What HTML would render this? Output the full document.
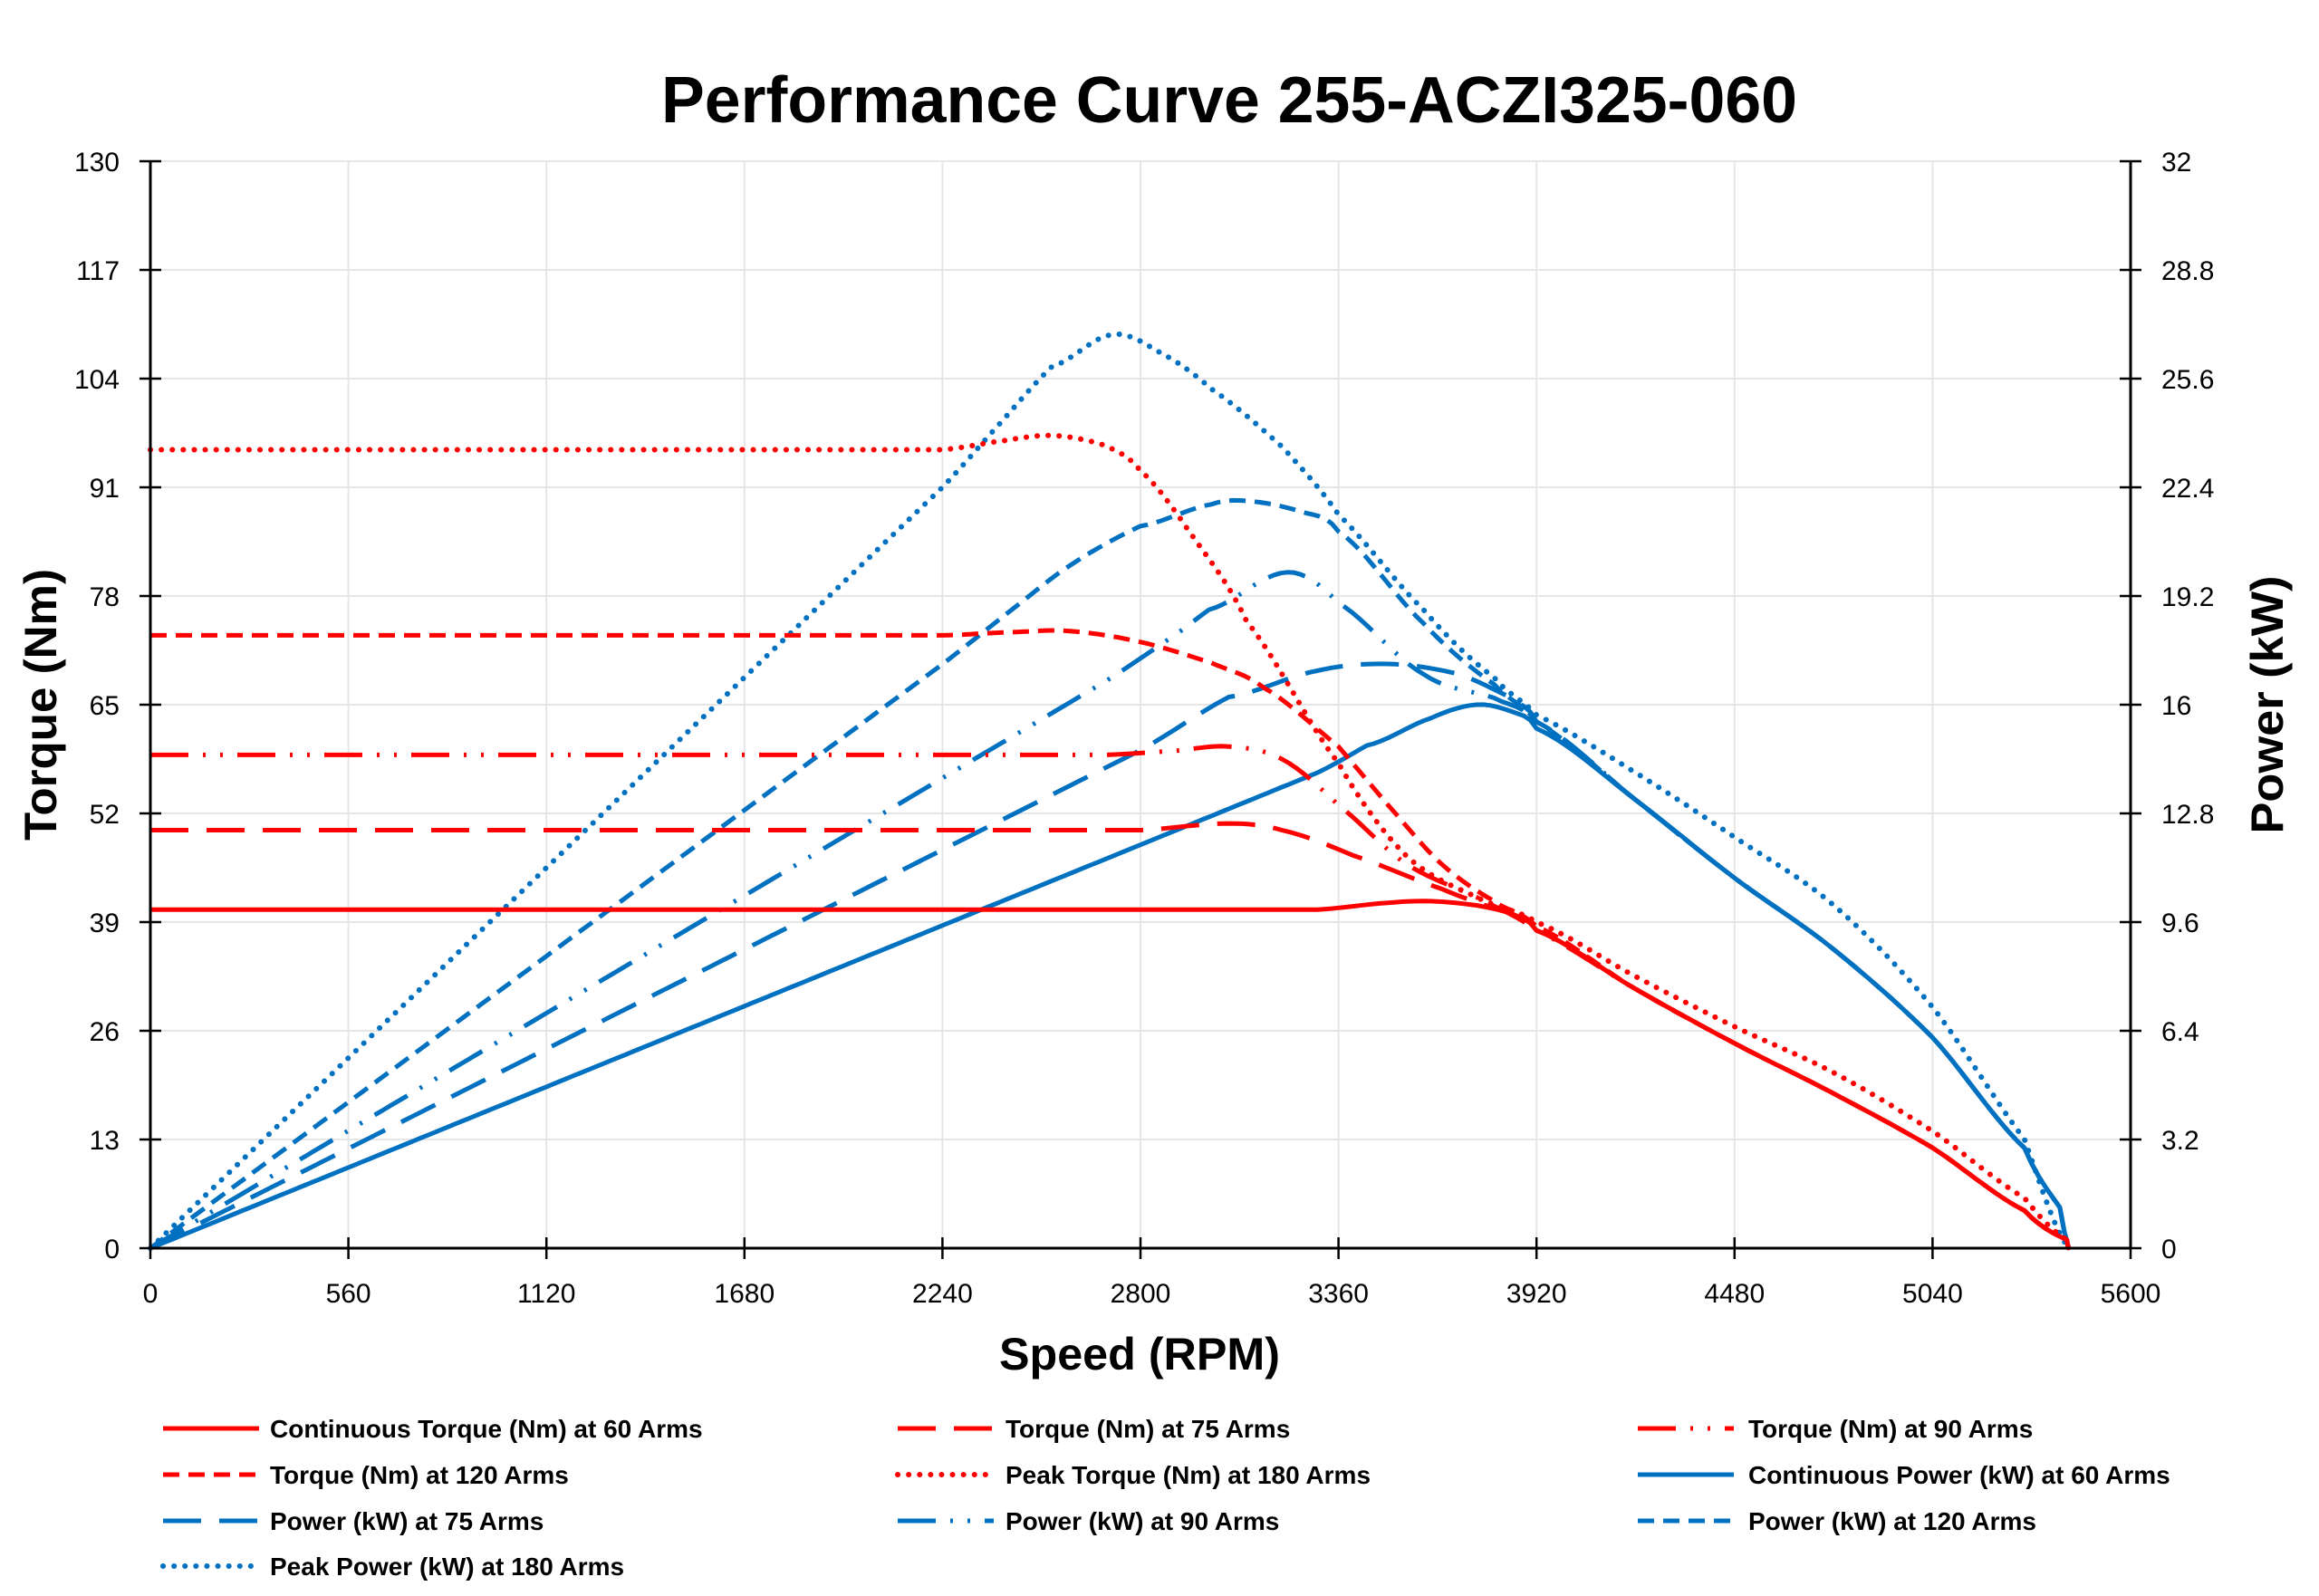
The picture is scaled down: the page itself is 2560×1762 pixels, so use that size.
<!DOCTYPE html>
<html><head><meta charset="utf-8"><style>
html,body{margin:0;padding:0;background:#fff;}
svg text{font-family:"Liberation Sans",sans-serif;fill:#000;}
</style></head><body>
<svg id="s" width="2560" height="1757" xmlns="http://www.w3.org/2000/svg">
<rect width="2560" height="1757" fill="#fff"/>
<g id="grid"></g>
<g id="curves"></g>
<g id="axes"></g>
<text x="1357" y="135" font-size="72" font-weight="bold" text-anchor="middle" textLength="1254" lengthAdjust="spacingAndGlyphs">Performance Curve 255-ACZI325-060</text>
<text transform="translate(62,778) rotate(-90)" font-size="50" font-weight="bold" text-anchor="middle" textLength="300" lengthAdjust="spacingAndGlyphs">Torque (Nm)</text>
<text transform="translate(2520,778) rotate(-90)" font-size="50" font-weight="bold" text-anchor="middle" textLength="285" lengthAdjust="spacingAndGlyphs">Power (kW)</text>
<text x="1258" y="1512" font-size="50" font-weight="bold" text-anchor="middle" textLength="310" lengthAdjust="spacingAndGlyphs">Speed (RPM)</text>
<g id="legend"></g>
</svg>
<script>
var NS="http://www.w3.org/2000/svg";
function el(p,t,a,txt){var e=document.createElementNS(NS,t);for(var k in a)e.setAttribute(k,a[k]);if(txt!==undefined)e.textContent=txt;p.appendChild(e);return e;}
var X0=166,X1=2352,Y0=1378,Y1=178;
function sx(r){return X0+r*(X1-X0)/5600;}
function sy(t){return Y0-t*(Y0-Y1)/130;}
function sp(p){return Y0-p*(Y0-Y1)/32;}
var g=document.getElementById('grid'),ax=document.getElementById('axes');
for(var i=0;i<=10;i++){var y=Y0-i*(Y0-Y1)/10;
 if(i>0)el(g,'line',{x1:X0,x2:X1,y1:y,y2:y,stroke:'#e6e6e6','stroke-width':2});
 el(ax,'line',{x1:X0-12,x2:X0+12,y1:y,y2:y,stroke:'#000','stroke-width':2.5});
 el(ax,'line',{x1:X1-12,x2:X1+12,y1:y,y2:y,stroke:'#000','stroke-width':2.5});
 el(ax,'text',{x:X0-34,y:y+11,'font-size':30,'text-anchor':'end'},String(i*13));
 var pv=(i*3.2);var ps=(Math.round(pv*10)/10).toString();
 el(ax,'text',{x:X1+34,y:y+11,'font-size':30,'text-anchor':'start'},ps);}
for(var j=0;j<=10;j++){var x=sx(j*560);
 if(j>0&&j<10)el(g,'line',{x1:x,x2:x,y1:Y1,y2:Y0,stroke:'#e6e6e6','stroke-width':2});
 el(ax,'line',{x1:x,x2:x,y1:Y0-12,y2:Y0+12,stroke:'#000','stroke-width':2.5});
 el(ax,'text',{x:x,y:Y0+60,'font-size':30,'text-anchor':'middle'},String(j*560));}
el(ax,'line',{x1:X0,x2:X0,y1:Y1,y2:Y0,stroke:'#000','stroke-width':3});
el(ax,'line',{x1:X1,x2:X1,y1:Y1,y2:Y0,stroke:'#000','stroke-width':3});
el(ax,'line',{x1:X0,x2:X1,y1:Y0,y2:Y0,stroke:'#000','stroke-width':3});
var tail=[[4200,31],[4480,24.5],[4760,18.5],[5040,12],[5300,4.5],[5420,1],[5425,0]];
var T60=[[0,40.5],[3300,40.5],[3500,41.3],[3620,41.5],[3750,41],[3850,40],[3920,38]].concat(tail);
var T75=[[0,50],[2800,50],[3050,50.8],[3200,50],[3400,47],[3650,43],[3850,40],[3920,38]].concat(tail);
var T90=[[0,59],[2700,59],[2900,59.5],[3050,60],[3200,58.5],[3360,53],[3550,46],[3750,42],[3920,38]].concat(tail);
var T120=[[0,73.3],[2240,73.3],[2450,73.7],[2600,73.8],[2800,72.5],[3000,70],[3150,67],[3360,60],[3500,53],[3650,46],[3800,41.5],[3920,38.5]].concat(tail);
var T180=[[0,95.5],[2240,95.5],[2400,96.5],[2550,97.2],[2700,96],[2800,93],[2950,85],[3100,75],[3360,58],[3550,47],[3750,42],[3920,39],[4200,32.5],[4480,26.5],[4760,21],[5040,14],[5300,6],[5420,1],[5425,0]];
var ptail=[[4200,13.2],[4480,10.9],[4760,8.8],[5040,6.2],[5300,2.95],[5400,1.2],[5425,0]];
function dense(pts){var out=[];for(var i=0;i<pts.length-1;i++){var p0=pts[Math.max(0,i-1)],p1=pts[i],p2=pts[i+1],p3=pts[Math.min(pts.length-1,i+2)];
 var n=Math.max(2,Math.ceil((p2[0]-p1[0])/20));for(var k=0;k<n;k++){var t=k/n,t2=t*t,t3=t2*t;
 var f=function(a,b,c,d){return 0.5*(2*b+(-a+c)*t+(2*a-5*b+4*c-d)*t2+(-a+3*b-3*c+d)*t3);};
 var r=p1[0]+(p2[0]-p1[0])*t;var v=f(p0[1],p1[1],p2[1],p3[1]);
 if(p1[1]==p2[1])v=p1[1];
 out.push([r,v]);}}out.push(pts[pts.length-1]);return out;}
function derive(T,cut,rest){var d=dense(T).filter(function(q){return q[0]<=cut;}).map(function(q){return [q[0],q[1]*q[0]/9549];});
 var last=d[d.length-1];var r=dense([last].concat(rest));return d.concat(r.slice(1));}
var P60=derive(T60,3450,[[3620,15.6],[3750,16.0],[3850,15.8],[3920,15.3]].concat(ptail));
var P75=derive(T75,3050,[[3300,17.0],[3500,17.2],[3700,16.9],[3850,16.2],[3920,15.5]].concat(ptail));
var P90=derive(T90,3000,[[3215,19.9],[3360,19.0],[3600,16.9],[3800,16.2],[3920,15.5]].concat(ptail));
var P120=derive(T120,2800,[[3000,21.9],[3100,22.0],[3250,21.7],[3360,21.1],[3600,18.4],[3800,16.6],[3920,15.5]].concat(ptail));
var P180=derive(T180,2550,[[2720,26.9],[2850,26.4],[3000,25.3],[3200,23.6],[3360,21.6],[3600,18.8],[3800,16.8],[3920,15.7],[4200,14.0],[4480,12.1],[4760,10.1],[5040,7.1],[5300,3.2],[5425,0]]);
var cv=document.getElementById('curves');
function draw(d,color,dash,isP){var s='';d.forEach(function(q,i){var x=sx(q[0]),y=isP?sp(q[1]):sy(q[1]);s+=(i?'L':'M')+x.toFixed(1)+' '+y.toFixed(1);});
 var a={d:s,fill:'none',stroke:color,'stroke-width':5,'stroke-linejoin':'round'};if(dash){a['stroke-dasharray']=dash;}
 if(dash=='0.1 12'){a['stroke-linecap']='round';a['stroke-width']=6;}el(cv,'path',a);}
var R='#ff0000',B='#0070c0';
var styles=['', '42 20','42 16 3 16 3 16','18 10','0.1 12'];
var Ts=[T60,T75,T90,T120,T180],Ps=[P60,P75,P90,P120,P180];
Ps.forEach(function(t,i){draw(t,B,styles[i],true);});
Ts.forEach(function(t,i){draw(dense(t),R,styles[i],false);});
var lg=document.getElementById('legend');
var items=[['Continuous Torque (Nm) at 60 Arms',R,0],['Torque (Nm) at 75 Arms',R,1],['Torque (Nm) at 90 Arms',R,2],
['Torque (Nm) at 120 Arms',R,3],['Peak Torque (Nm) at 180 Arms',R,4],['Continuous Power (kW) at 60 Arms',B,0],
['Power (kW) at 75 Arms',B,1],['Power (kW) at 90 Arms',B,2],['Power (kW) at 120 Arms',B,3],['Peak Power (kW) at 180 Arms',B,4]];
var cols=[[180,298],[991,1110],[1808,1930]],rows=[1577,1628,1679,1729];
items.forEach(function(it,i){var c=cols[i%3],r=rows[Math.floor(i/3)];
 var a={x1:c[0],x2:c[0]+106,y1:r,y2:r,stroke:it[1],'stroke-width':5};var ds=styles[it[2]];if(ds)a['stroke-dasharray']=ds;
 if(it[2]==4){a['stroke-linecap']='round';a['stroke-width']=6;}el(lg,'line',a);
 el(lg,'text',{x:c[1],y:r+10,'font-size':28,'font-weight':'bold'},it[0]);});
</script>
</body></html>
